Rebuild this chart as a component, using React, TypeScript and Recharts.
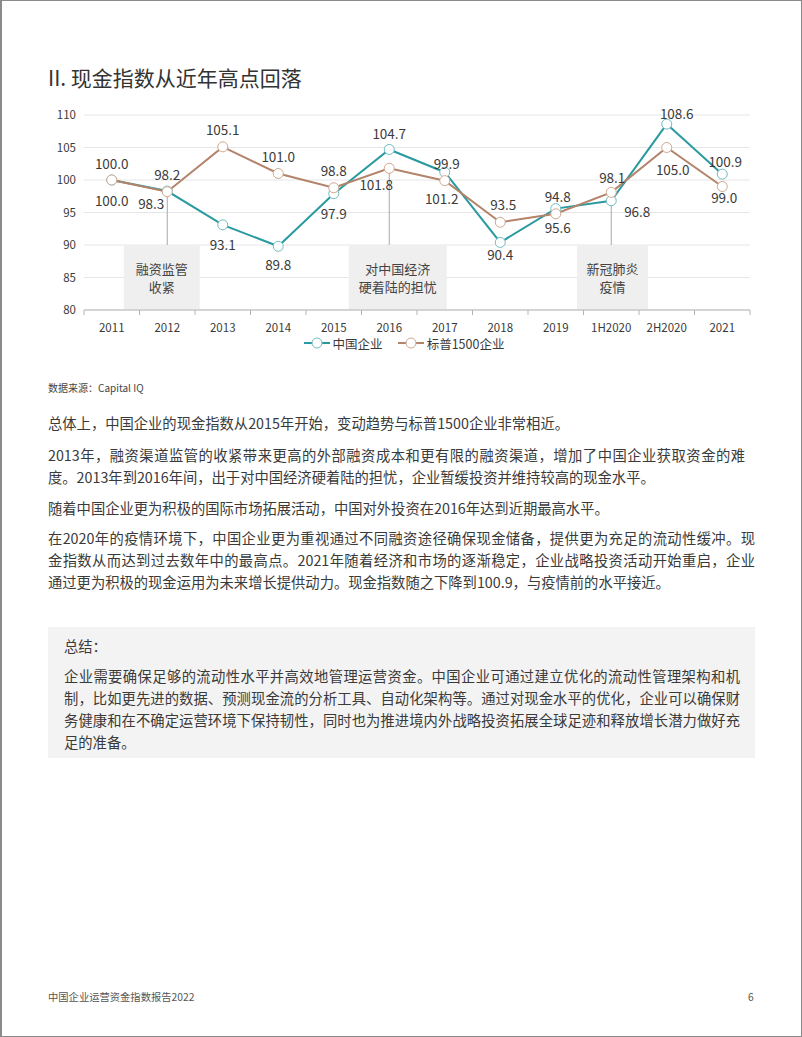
import React from 'react';
import {
  LineChart,
  Line,
  XAxis,
  YAxis,
  CartesianGrid,
  Legend,
  LabelList,
  ReferenceLine,
  ReferenceArea,
} from 'recharts';

// ---------------- data ----------------
const categories = ['2011', '2012', '2013', '2014', '2015', '2016', '2017', '2018', '2019', '1H2020', '2H2020', '2021'];
const chinaValues = [100.0, 98.3, 93.1, 89.8, 97.9, 104.7, 101.2, 90.4, 95.6, 96.8, 108.6, 100.9];
const spValues = [100.0, 98.2, 105.1, 101.0, 98.8, 101.8, 99.9, 93.5, 94.8, 98.1, 105.0, 99.0];
const yTicks = [80, 85, 90, 95, 100, 105, 110];
const seriesNames = ['中国企业', '标普1500企业'];
const eventAnchors = ['2012', '2016', '1H2020'];
const eventSpans = [
  ['2011', '2013'],
  ['2015', '2017'],
  ['2019', '2H2020'],
];
const eventTexts = [
  ['融资监管', '收紧'],
  ['对中国经济', '硬着陆的担忧'],
  ['新冠肺炎', '疫情'],
];

// ---------------- styles ----------------
const FONT = "'Noto Sans CJK SC', 'Noto Sans', sans-serif";
const TEAL = '#2a9aa1';
const TEAL_DOT = '#6fbcc1';
const BROWN = '#b3836a';
const BROWN_DOT = '#cfa790';
const AXIS = '#b5b5b5';
const GRID = '#e6e6e6';
const TEXT = '#3a3a3a';

const CHART_W = 728;
const CHART_H = 252;
const MARGIN = { top: 14, right: 18, left: 8, bottom: 0 };
const Y_AXIS_W = 36;
const PLOT_W = CHART_W - MARGIN.left - MARGIN.right - Y_AXIS_W;
const HALF_BAND = PLOT_W / categories.length / 2;

// label offsets [dx, dy] relative to each point
const chinaLabelOffsets = [[0, 20], [-16, 12], [0, 19], [0, 18], [0, 19], [0, -16], [-3, 26], [0, 12], [2, 18], [26, 10], [10, -11], [3, -13]];
const spLabelOffsets = [[0, -17], [0, -18], [0, -18], [0, -18], [0, -18], [-13, 16], [2, -18], [3, -18], [2, -18], [1, -15], [6, 21], [2, 10]];
// box geometry [centre shift px, width px]
const eventBoxGeom = [[-5.5, 76], [8.5, 98], [1.3, 71]];

const data = categories.map((c, i) => ({ name: c, china: chinaValues[i], sp: spValues[i] }));

const makeLabel = (offsets: number[][]) => (props: any) => {
  const { x, y, value, index } = props;
  const off = offsets[index] || [0, -16];
  return (
    <text
      x={Number(x) + off[0]}
      y={Number(y) + off[1]}
      textAnchor="middle"
      dominantBaseline="central"
      fontSize={13.5}
      fill={TEXT}
      fontFamily={FONT}
    >
      {Number(value).toFixed(1)}
    </text>
  );
};

const XTick = (props: any) => {
  const { x, y, payload } = props;
  const isLast = payload.value === categories[categories.length - 1];
  return (
    <g>
      <line x1={x - HALF_BAND} x2={x - HALF_BAND} y1={y - 7} y2={y - 2} stroke={AXIS} strokeWidth={1} />
      {isLast && <line x1={x + HALF_BAND} x2={x + HALF_BAND} y1={y - 7} y2={y - 2} stroke={AXIS} strokeWidth={1} />}
      <text x={x} y={y + 15} textAnchor="middle" fontSize={11.5} fill={TEXT} fontFamily={FONT}>
        {payload.value}
      </text>
    </g>
  );
};

const makeBox = (i: number) => (props: any) => {
  const { x, y, width, height } = props;
  const [shift, w] = eventBoxGeom[i];
  const cx = x + width / 2 + shift;
  const cy = y + height / 2;
  const lines = eventTexts[i];
  return (
    <g>
      <rect x={cx - w / 2} y={y} width={w} height={height} fill="#efefef" />
      {lines.map((t, k) => (
        <text
          key={k}
          x={cx}
          y={cy + (k - (lines.length - 1) / 2) * 18}
          textAnchor="middle"
          dominantBaseline="central"
          fontSize={13}
          fill="#444"
          fontFamily={FONT}
        >
          {t}
        </text>
      ))}
    </g>
  );
};

const LegendContent = () => {
  const colors = [[TEAL, TEAL_DOT], [BROWN, BROWN_DOT]];
  return (
    <div style={{ display: 'flex', justifyContent: 'center', alignItems: 'center', height: 20, fontFamily: FONT, fontSize: 12.5, color: TEXT }}>
      {seriesNames.map((n, i) => (
        <div key={n} style={{ display: 'flex', alignItems: 'center', marginLeft: i === 0 ? 0 : 15 }}>
          <svg width={26} height={12} style={{ display: 'block' }}>
            <line x1={0} x2={26} y1={6} y2={6} stroke={colors[i][0]} strokeWidth={2} />
            <circle cx={13} cy={6} r={5} fill="#fff" stroke={colors[i][1]} strokeWidth={1} />
          </svg>
          <span style={{ marginLeft: 3, whiteSpace: 'nowrap' }}>{n}</span>
        </div>
      ))}
    </div>
  );
};

const Chart = () => (
  <LineChart width={CHART_W} height={CHART_H} data={data} margin={MARGIN} style={{ fontFamily: FONT }}>
    <CartesianGrid vertical={false} stroke={GRID} />
    <XAxis
      dataKey="name"
      interval={0}
      padding={{ left: HALF_BAND, right: HALF_BAND }}
      axisLine={{ stroke: AXIS }}
      tickLine={false}
      tickSize={5}
      tickMargin={2}
      height={23}
      tick={<XTick />}
    />
    <YAxis
      domain={[80, 110]}
      ticks={yTicks}
      axisLine={false}
      tickLine={false}
      width={Y_AXIS_W}
      interval={0}
      tick={{ fontSize: 11.5, fill: TEXT, fontFamily: FONT }}
    />
    {eventSpans.map((s, i) => (
      <ReferenceArea key={'a' + i} x1={s[0]} x2={s[1]} y1={80} y2={90} shape={makeBox(i)} ifOverflow="visible" />
    ))}
    {eventAnchors.map((c) => {
      const idx = categories.indexOf(c);
      const low = Math.min(chinaValues[idx], spValues[idx]);
      return (
        <ReferenceLine
          key={'l' + c}
          segment={[{ x: c, y: low }, { x: c, y: 90 }]}
          stroke="#a8a8a8"
          strokeWidth={1}
          ifOverflow="visible"
        />
      );
    })}
    <Legend
      verticalAlign="bottom"
      align="center"
      wrapperStyle={{ left: 0, width: CHART_W, height: 20 }}
      content={() => <LegendContent />}
    />
    <Line
      type="linear"
      dataKey="china"
      name={seriesNames[0]}
      stroke={TEAL}
      strokeWidth={2}
      dot={{ r: 5, fill: '#fff', stroke: TEAL_DOT, strokeWidth: 1 }}
      activeDot={false}
      isAnimationActive={false}
    >
      <LabelList dataKey="china" content={makeLabel(chinaLabelOffsets)} />
    </Line>
    <Line
      type="linear"
      dataKey="sp"
      name={seriesNames[1]}
      stroke={BROWN}
      strokeWidth={2}
      dot={{ r: 5, fill: '#fff', stroke: BROWN_DOT, strokeWidth: 1 }}
      activeDot={false}
      isAnimationActive={false}
    >
      <LabelList dataKey="sp" content={makeLabel(spLabelOffsets)} />
    </Line>
  </LineChart>
);

// ---------------- page text ----------------
const paragraphs = [
  { top: 411, lines: ['总体上，中国企业的现金指数从2015年开始，变动趋势与标普1500企业非常相近。'] },
  {
    top: 443,
    lines: [
      '2013年，融资渠道监管的收紧带来更高的外部融资成本和更有限的融资渠道，增加了中国企业获取资金的难',
      '度。2013年到2016年间，出于对中国经济硬着陆的担忧，企业暂缓投资并维持较高的现金水平。',
    ],
  },
  { top: 496, lines: ['随着中国企业更为积极的国际市场拓展活动，中国对外投资在2016年达到近期最高水平。'] },
  {
    top: 526,
    lines: [
      '在2020年的疫情环境下，中国企业更为重视通过不同融资途径确保现金储备，提供更为充足的流动性缓冲。现',
      '金指数从而达到过去数年中的最高点。2021年随着经济和市场的逐渐稳定，企业战略投资活动开始重启，企业',
      '通过更为积极的现金运用为未来增长提供动力。现金指数随之下降到100.9，与疫情前的水平接近。',
    ],
  },
];
// justified widths for wrapped lines (0 = natural width, left aligned)
const paragraphLineWidths = [[0], [697, 0], [0], [707, 707, 0]];
const summaryTitle = '总结：';
const summaryLines = [
  '企业需要确保足够的流动性水平并高效地管理运营资金。中国企业可通过建立优化的流动性管理架构和机',
  '制，比如更先进的数据、预测现金流的分析工具、自动化架构等。通过对现金水平的优化，企业可以确保财',
  '务健康和在不确定运营环境下保持韧性，同时也为推进境内外战略投资拓展全球足迹和释放增长潜力做好充',
  '足的准备。',
];
const summaryLineWidths = [676, 676, 676, 0];

const BODY_FS = 14.3;
const LINE_H = 22;

const Lines = ({ lines, widths }: { lines: string[]; widths: number[] }) => (
  <>
    {lines.map((l, i) => {
      const w = widths[i] || 0;
      return (
        <div
          key={i}
          style={{
            width: w > 0 ? w : 'auto',
            height: LINE_H,
            lineHeight: LINE_H + 'px',
            whiteSpace: 'nowrap',
            textAlign: w > 0 ? 'justify' : 'left',
            textAlignLast: w > 0 ? 'justify' : 'left',
          } as React.CSSProperties}
        >
          {l}
        </div>
      );
    })}
  </>
);

export default function App() {
  return (
    <div
      style={{
        position: 'absolute',
        left: 0,
        top: 0,
        width: 802,
        height: 1037,
        boxSizing: 'border-box',
        border: '1px solid #8a8a8a',
        borderLeft: '2px solid #8a8a8a',
        background: '#fff',
        fontFamily: FONT,
        color: TEXT,
        overflow: 'hidden',
      }}
    >
      <div style={{ position: 'absolute', left: 46, top: 62, fontSize: 21, lineHeight: '28px', color: '#333', whiteSpace: 'nowrap' }}>
        II. 现金指数从近年高点回落
      </div>
      <div style={{ position: 'absolute', left: 38, top: 100 }}>
        <Chart />
      </div>
      <div style={{ position: 'absolute', left: 46, top: 379, fontSize: 10, lineHeight: '16px', color: '#444', whiteSpace: 'nowrap' }}>
        数据来源：Capital IQ
      </div>
      <div style={{ fontSize: BODY_FS }}>
        {paragraphs.map((p, i) => (
          <div key={i} style={{ position: 'absolute', left: 46, top: p.top }}>
            <Lines lines={p.lines} widths={paragraphLineWidths[i]} />
          </div>
        ))}
      </div>
      <div style={{ position: 'absolute', left: 46, top: 626, width: 707, height: 131, background: '#f3f3f3', fontSize: BODY_FS }}>
        <div style={{ position: 'absolute', left: 16, top: 8, lineHeight: LINE_H + 'px' }}>{summaryTitle}</div>
        <div style={{ position: 'absolute', left: 16, top: 38 }}>
          <Lines lines={summaryLines} widths={summaryLineWidths} />
        </div>
      </div>
      <div style={{ position: 'absolute', left: 46, top: 988, fontSize: 10.3, lineHeight: '16px', color: '#555', whiteSpace: 'nowrap' }}>
        中国企业运营资金指数报告2022
      </div>
      <div style={{ position: 'absolute', left: 746, top: 988, fontSize: 10.3, lineHeight: '16px', color: '#555' }}>6</div>
    </div>
  );
}
